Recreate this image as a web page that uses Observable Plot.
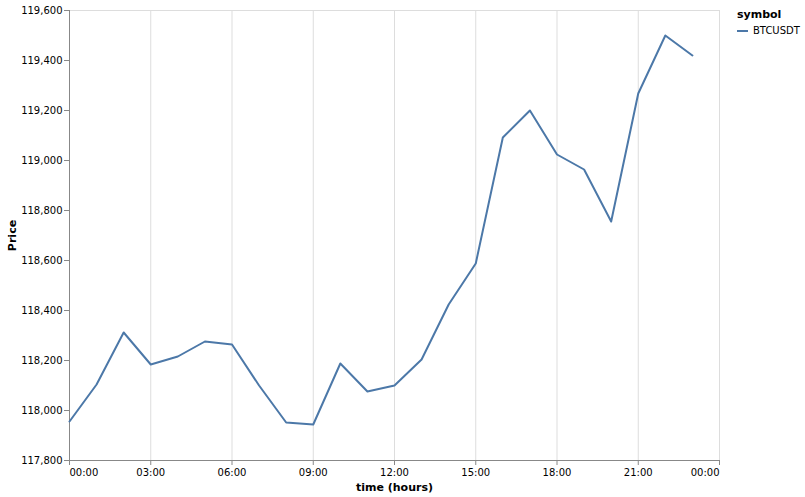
<!DOCTYPE html>
<html>
<head>
<meta charset="utf-8">
<script src="https://cdn.jsdelivr.net/npm/d3@7"></script>
<script src="https://cdn.jsdelivr.net/npm/@observablehq/plot@0.6"></script>
<style>
  html, body { margin: 0; padding: 0; background: #fff; }
  #wrap { position: relative; width: 805px; height: 497px; font-family: "DejaVu Sans", sans-serif; }
  #legend { position: absolute; left: 737px; top: 8px; font-family: "DejaVu Sans", sans-serif; }
  #legend .title { font-size: 11px; font-weight: bold; color: #000; margin-bottom: 4px; }
  #legend .item { display: flex; align-items: center; font-size: 10px; color: #000; }
  #legend svg { margin-right: 5px; }
</style>
</head>
<body>
<div id="wrap"><div id="legend"></div></div>
<script>
const symbols = ["BTCUSDT"];
const hours = [0,1,2,3,4,5,6,7,8,9,10,11,12,13,14,15,16,17,18,19,20,21,22,23];
const prices = [117956,118104,118312,118184,118216,118276,118264,118100,117952,117944,118188,118076,118100,118204,118424,118588,119092,119200,119024,118964,118756,119268,119500,119420];
const yTicks = [117800,118000,118200,118400,118600,118800,119000,119200,119400,119600];
const xTickHours = [0,3,6,9,12,15,18,21,24];
const colors = ["#4c78a8"];

const base = Date.UTC(2025, 6, 14);
const toDate = h => new Date(base + h * 3600 * 1000);
const data = hours.map((h, i) => ({time: toDate(h), price: prices[i], symbol: symbols[0]}));
const xTicks = xTickHours.map(toDate);
const fmt = d3.utcFormat("%H:%M");

const chart = Plot.plot({
  width: 805,
  height: 497,
  marginLeft: 69,
  marginRight: 86,
  marginTop: 10,
  marginBottom: 37,
  style: {fontFamily: "DejaVu Sans, sans-serif", fontSize: "10px", color: "#000", background: "#fff"},
  x: {type: "utc", domain: [toDate(0), toDate(24)]},
  y: {domain: [117800, 119600]},
  color: {domain: symbols, range: colors},
  marks: [
    Plot.frame({stroke: "#ddd"}),
    Plot.gridX(xTicks, {stroke: "#ddd", strokeOpacity: 1}),
    Plot.ruleY([117800], {stroke: "#888"}),
    Plot.ruleX([toDate(0)], {stroke: "#888"}),
    Plot.axisY(yTicks, {tickSize: 5, stroke: "#888", tickPadding: 2, tickFormat: d3.format(","), label: null, fill: "#000"}),
    Plot.axisX(xTicks.slice(0, 1), {tickSize: 5, stroke: "#888", tickPadding: 3, tickFormat: fmt, textAnchor: "start", label: null, fill: "#000"}),
    Plot.axisX(xTicks.slice(1, -1), {tickSize: 5, stroke: "#888", tickPadding: 3, tickFormat: fmt, label: null, fill: "#000"}),
    Plot.axisX(xTicks.slice(-1), {tickSize: 5, stroke: "#888", tickPadding: 3, tickFormat: fmt, textAnchor: "end", label: null, fill: "#000"}),
    Plot.lineY(data, {x: "time", y: "price", stroke: "symbol", strokeWidth: 2}),
    Plot.text(["Price"], {frameAnchor: "left", textAnchor: "middle", rotate: -90, dx: -57, fontWeight: "bold", fontSize: 11, fill: "#000"}),
    Plot.text(["time (hours)"], {frameAnchor: "bottom", dy: 30, fontWeight: "bold", fontSize: 11, fill: "#000"})
  ]
});
document.getElementById("wrap").prepend(chart);

const legend = document.getElementById("legend");
const t = document.createElement("div");
t.className = "title";
t.textContent = "symbol";
legend.appendChild(t);
symbols.forEach((s, i) => {
  const item = document.createElement("div");
  item.className = "item";
  item.innerHTML = `<svg width="11" height="10"><line x1="0" x2="11" y1="5" y2="5" stroke="${colors[i]}" stroke-width="2"/></svg><span>${s}</span>`;
  legend.appendChild(item);
});
</script>
</body>
</html>
